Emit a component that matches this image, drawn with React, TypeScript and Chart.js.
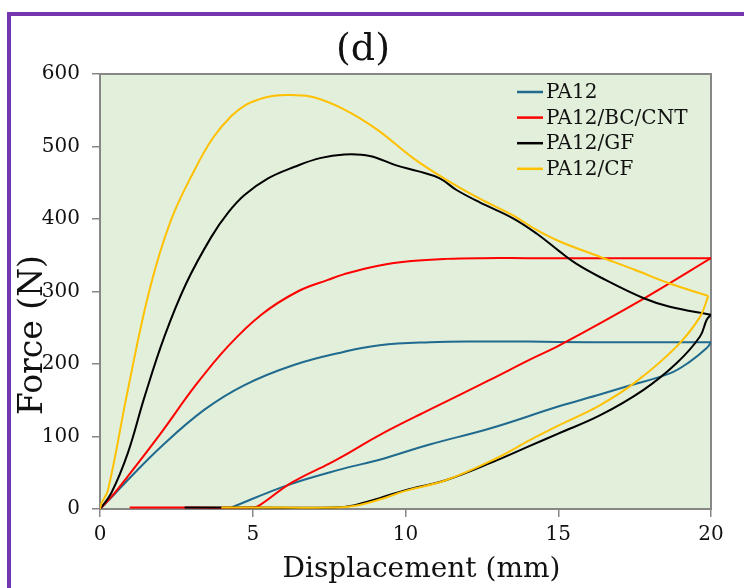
import React, { useEffect, useRef } from "react";
import { Chart, registerables } from "chart.js";

Chart.register(...registerables);

// ---- Data (Displacement in mm, Force in N) ----
const seriesNames = ["PA12", "PA12/BC/CNT", "PA12/GF", "PA12/CF"];
const seriesColors = ["#1f6a8e", "#ff0000", "#000000", "#ffc000"];

const xTicks = [0, 5, 10, 15, 20];
const yTicks = [0, 100, 200, 300, 400, 500, 600];

// PA12
const pa12LoadX = [0, 0.4, 0.91, 2.0, 3.42, 4.73, 6.37, 8.0, 9.15, 10.8, 12.5, 14, 16, 18, 20];
const pa12LoadY = [0, 17, 40, 86, 137, 171, 199, 217, 226, 230, 231, 231, 230, 230, 230];
const pa12UnloadX = [4.3, 6.15, 8.0, 9.15, 10.79, 12.76, 15.05, 16.36, 17.23, 18.65, 19.3, 19.86, 20];
const pa12UnloadY = [2, 33, 56, 68, 89, 111, 142, 158, 169, 187, 203, 222, 230];

// PA12/BC/CNT
const cntLoadX = [0, 0.4, 0.91, 2.0, 3.1, 4.18, 5.28, 6.47, 7.46, 8.0, 9.15, 10.2, 11.34, 12.5, 14, 16, 18, 20];
const cntLoadY = [0, 18, 45, 105, 169, 224, 268, 300, 316, 324, 336, 342, 345, 346, 346, 346, 346, 346];
const cntUnloadX = [0.97, 3, 5.0, 5.22, 6.26, 7.52, 8.0, 9.15, 10.79, 12.76, 14.07, 15.05, 17.83, 20];
const cntUnloadY = [2, 2, 2, 5, 36, 63, 74, 102, 137, 178, 206, 226, 291, 346];

// PA12/GF
const gfLoadX = [0, 0.37, 0.91, 1.46, 2.11, 2.82, 3.64, 4.2, 4.73, 5.5, 6.37, 7.2, 8.0, 8.83, 9.7, 10.4, 11.12, 11.67, 12.43, 13.52, 14.29, 15.05, 15.6, 16.36, 17.78, 18.65, 20];
const gfLoadY = [0, 22, 77, 155, 238, 311, 375, 409, 433, 456, 472, 484, 489, 487, 474, 466, 456, 440, 423, 401, 380, 355, 338, 320, 291, 279, 268];
const gfUnloadX = [2.77, 5, 7.7, 8.3, 9.15, 10, 11.34, 12.98, 14.07, 15.0, 16.36, 17.78, 18.87, 19.64, 19.86, 20];
const gfUnloadY = [2, 2, 2, 5, 15, 26, 40, 67, 87, 104, 129, 164, 201, 238, 261, 268];

// PA12/CF
const cfLoadX = [0, 0.05, 0.26, 0.91, 1.62, 2.33, 3.1, 3.7, 4.3, 4.8, 5.2, 5.7, 6.26, 7.0, 8.0, 9.05, 10.25, 11.34, 12.43, 13.52, 14.29, 15.05, 16.36, 17.5, 18.65, 19.91];
const cfLoadY = [0, 8, 26, 164, 302, 399, 468, 512, 542, 558, 565, 570, 571, 568, 551, 524, 484, 454, 428, 405, 385, 369, 348, 330, 311, 294];
const cfUnloadX = [3.97, 6, 7.6, 8.3, 9.15, 10, 11.34, 12.98, 14.07, 15.0, 16.36, 17.56, 18.87, 19.64, 19.91];
const cfUnloadY = [2, 2, 2, 4, 13, 25, 40, 70, 95, 115, 143, 176, 224, 265, 294];

const loads = [
  [pa12LoadX, pa12LoadY, pa12UnloadX, pa12UnloadY],
  [cntLoadX, cntLoadY, cntUnloadX, cntUnloadY],
  [gfLoadX, gfLoadY, gfUnloadX, gfUnloadY],
  [cfLoadX, cfLoadY, cfUnloadX, cfUnloadY],
];

const FONT = '"DejaVu Serif", serif';

const pts = (xs: number[], ys: number[]) => xs.map((x, i) => ({ x, y: ys[i] }));

const decor = {
  id: "decor",
  beforeDraw(chart: any) {
    const { ctx, chartArea: a } = chart;
    ctx.save();
    ctx.fillStyle = "#ffffff";
    ctx.fillRect(0, 0, chart.width, chart.height);
    ctx.fillStyle = "#e2efda";
    ctx.fillRect(a.left, a.top, a.right - a.left, a.bottom - a.top);
    ctx.restore();
  },
  beforeDatasetsDraw(chart: any) {
    const { ctx, chartArea: a } = chart;
    ctx.save();
    ctx.strokeStyle = "#878787";
    ctx.lineWidth = 2;
    ctx.strokeRect(a.left, a.top, a.right - a.left, a.bottom - a.top);
    ctx.restore();
  },
  afterDraw(chart: any) {
    const { ctx, chartArea: a } = chart;
    ctx.save();
    // purple frame
    ctx.fillStyle = "#7636b0";
    ctx.fillRect(7, 12, 4, chart.height - 12);
    ctx.fillRect(7, 12, chart.width - 7, 4);
    // title
    ctx.fillStyle = "#111111";
    ctx.textAlign = "center";
    ctx.textBaseline = "alphabetic";
    ctx.font = `38px ${FONT}`;
    ctx.fillText("(d)", 363, 60);
    // x title
    ctx.font = `28px ${FONT}`;
    ctx.fillText("Displacement (mm)", (a.left + a.right) / 2 + 16, 577);
    // y title
    ctx.save();
    ctx.translate(42, 335);
    ctx.rotate(-Math.PI / 2);
    ctx.font = `33px ${FONT}`;
    ctx.fillText("Force (N)", 0, 0);
    ctx.restore();
    // legend
    ctx.font = `20px ${FONT}`;
    ctx.textAlign = "left";
    ctx.textBaseline = "middle";
    seriesNames.forEach((name, i) => {
      const y = 92 + i * 25.6;
      ctx.strokeStyle = seriesColors[i];
      ctx.lineWidth = 2.5;
      ctx.beginPath();
      ctx.moveTo(517, y);
      ctx.lineTo(543, y);
      ctx.stroke();
      ctx.fillStyle = "#111111";
      ctx.fillText(name, 546, y + 1);
    });
    ctx.restore();
  },
};

export default function App() {
  const ref = useRef<HTMLCanvasElement | null>(null);
  useEffect(() => {
    if (!ref.current) return;
    const datasets: any[] = [];
    loads.forEach(([lx, ly, ux, uy], i) => {
      [pts(lx, ly), pts(ux, uy)].forEach((data, k) => {
        datasets.push({
          label: seriesNames[i] + (k ? " unload" : ""),
          data,
          borderColor: seriesColors[i],
          backgroundColor: seriesColors[i],
          borderWidth: 2,
          pointRadius: 0,
          showLine: true,
          fill: false,
          tension: 0.4,
          order: 4 - i,
        });
      });
    });
    const chart = new Chart(ref.current, {
      type: "scatter",
      data: { datasets },
      options: {
        responsive: false,
        animation: false,
        devicePixelRatio: 1,
        layout: { padding: { top: 74, right: 33, left: 0, bottom: 0 } },
        plugins: { legend: { display: false }, tooltip: { enabled: false }, title: { display: false } },
        scales: {
          x: {
            type: "linear",
            min: 0,
            max: 20,
            afterBuildTicks: (s: any) => { s.ticks = xTicks.map((v) => ({ value: v })); },
            afterFit: (s: any) => { s.height = 79; },
            grid: { display: true, drawOnChartArea: false, drawTicks: true, tickLength: 8, color: "#878787", lineWidth: 1.5 },
            border: { display: false },
            ticks: { color: "#111111", font: { family: FONT, size: 20 }, padding: 6, maxRotation: 0 },
          },
          y: {
            type: "linear",
            min: 0,
            max: 600,
            afterBuildTicks: (s: any) => { s.ticks = yTicks.map((v) => ({ value: v })); },
            afterFit: (s: any) => { s.width = 100; },
            grid: { display: true, drawOnChartArea: false, drawTicks: true, tickLength: 8, color: "#878787", lineWidth: 1.5 },
            border: { display: false },
            ticks: { color: "#111111", font: { family: FONT, size: 20 }, padding: 12 },
          },
        },
      },
      plugins: [decor],
    });
    return () => chart.destroy();
  }, []);
  return (
    <div style={{ position: "absolute", left: 0, top: 0, width: 744, height: 588, background: "#fff" }}>
      <canvas ref={ref} width={744} height={588} style={{ width: 744, height: 588, display: "block" }} />
    </div>
  );
}
